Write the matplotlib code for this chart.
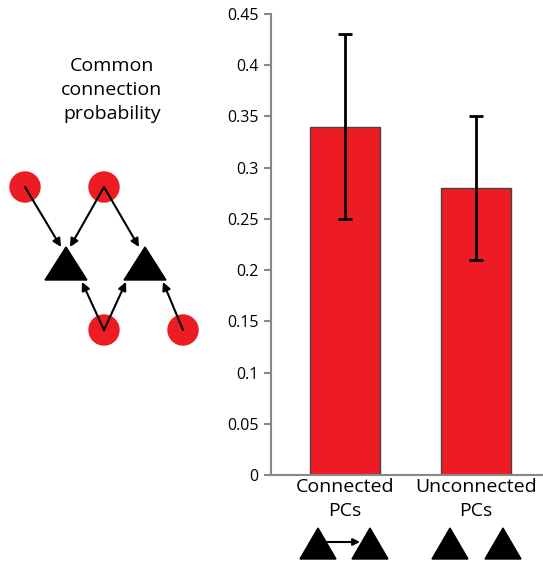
import matplotlib.pyplot as plt
from matplotlib.patches import Circle, Polygon

# data
categories = ['Connected\nPCs', 'Unconnected\nPCs']
probability = [0.34, 0.28]
errors = [0.09, 0.07]
y_ticks = [0, 0.05, 0.1, 0.15, 0.2, 0.25, 0.3, 0.35, 0.4, 0.45]
y_tick_labels = ['0', '0.05', '0.1', '0.15', '0.2', '0.25', '0.3', '0.35', '0.4', '0.45']

# schematic layout (pixels)
cells = [(25, 187), (104, 187), (104, 330), (183, 330)]
pyramids = [(66, 247), (145, 247)]
links = [((25, 187), (61, 247)), ((104, 187), (70, 247)), ((104, 187), (139, 247)),
         ((104, 330), (82, 282)), ((104, 330), (126, 282)), ((183, 330), (163, 282))]
red = '#ED1C24'

plt.rcParams['font.family'] = ['Open Sans', 'DejaVu Sans']

fig = plt.figure(figsize=(5.43, 5.63), dpi=100)
ax = fig.add_axes([271 / 543, 88 / 563, 272 / 543, 461 / 563])
ax.bar(range(len(categories)), probability, width=0.534, color=red,
       edgecolor='#444444', linewidth=1)
ax.errorbar(range(len(categories)), probability, yerr=errors, fmt='none',
            ecolor='black', elinewidth=2, capsize=5, capthick=2)
ax.set_xlim(-0.565, 1.511)
ax.set_ylim(0, 0.45)
ax.set_yticks(y_ticks)
ax.set_yticklabels(y_tick_labels, fontsize=11.5)
ax.set_xticks(range(len(categories)))
ax.set_xticklabels(categories, fontsize=14, linespacing=1.45)
ax.tick_params(axis='y', direction='out', length=5, width=1.5, color='#888888', pad=4)
ax.tick_params(axis='x', length=0, pad=2)
for s in ['top', 'right']:
    ax.spines[s].set_visible(False)
for s in ['left', 'bottom']:
    ax.spines[s].set_color('#888888')
    ax.spines[s].set_linewidth(1.5)

# overlay in pixel coordinates for the schematic
ov = fig.add_axes([0, 0, 1, 1])
ov.set_xlim(0, 543)
ov.set_ylim(563, 0)
ov.axis('off')
ov.patch.set_visible(False)

ov.text(112, 90, 'Common\nconnection\nprobability', ha='center', va='center',
        fontsize=14, linespacing=1.4)

for (x, y) in cells:
    ov.add_patch(Circle((x, y), 15, color=red, zorder=1))
for (x, y) in pyramids:
    ov.add_patch(Polygon([(x - 21, y + 33), (x + 21, y + 33), (x, y)], closed=True,
                         color='black', zorder=2))
for (a, b) in links:
    ov.annotate('', xy=b, xytext=a,
                arrowprops=dict(arrowstyle='-|>', color='black', lw=1.5,
                                mutation_scale=12, shrinkA=0, shrinkB=0), zorder=3)

# little triangles under the tick labels
for (x, y) in [(318, 528), (370, 528), (450, 528), (503, 528)]:
    ov.add_patch(Polygon([(x - 18, y + 31), (x + 18, y + 31), (x, y)], closed=True,
                         color='black'))
ov.annotate('', xy=(360, 542), xytext=(327, 542),
            arrowprops=dict(arrowstyle='-|>', color='black', lw=1.5,
                            mutation_scale=10, shrinkA=0, shrinkB=0))

fig.savefig('out.png', dpi=100)
